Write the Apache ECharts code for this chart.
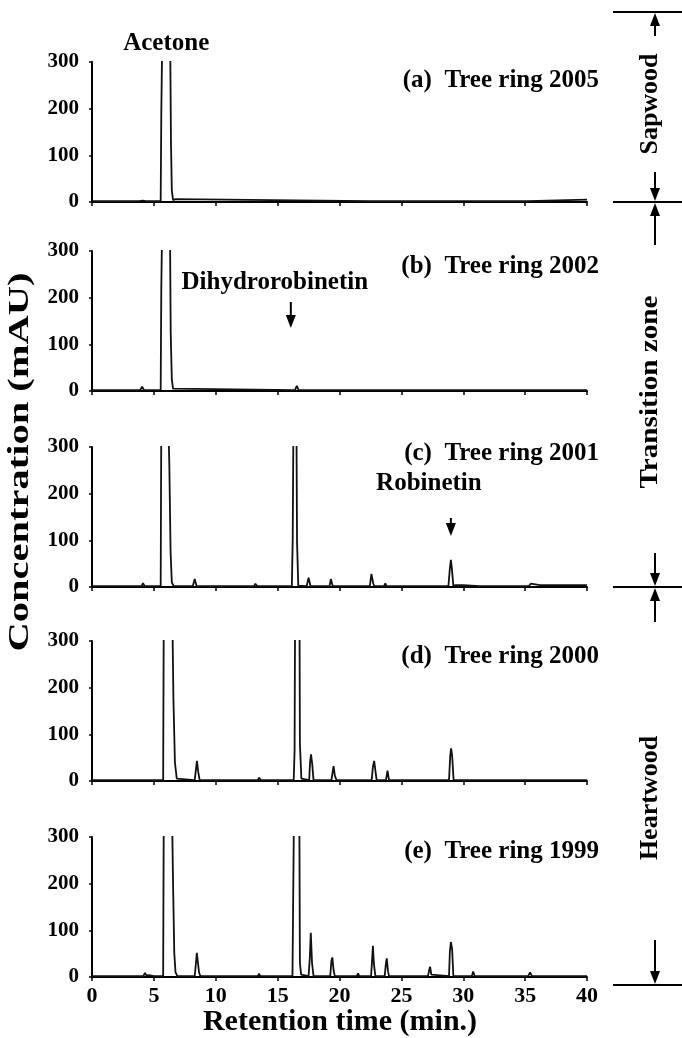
<!DOCTYPE html>
<html>
<head>
<meta charset="utf-8">
<style>
  html, body { margin: 0; padding: 0; background: #fff; }
  #chart { width: 682px; height: 1038px; }
</style>
<script src="https://cdn.jsdelivr.net/npm/echarts@6/dist/echarts.min.js"></script>
</head>
<body>
<div id="chart"></div>
<script>
// retention time (min) vs absorbance (mAU)
const ring2005 = [[0,2],[3.3,2],[3.4,5],[3.5,2],[3.8,2],[3.95,6],[4.1,3],[4.2,7],[4.35,2],
  [5.55,2],[5.6,190],[5.68,360],[6.0,2000],[6.32,340],[6.38,130],[6.45,25],[6.55,4],[6.75,6],[6.9,2],
  [22.4,2],[22.5,5],[22.65,2],[25.9,2],[26.0,4],[26.15,2],[32.6,2],[32.7,5],[32.85,2],
  [33.9,2],[34.0,5],[34.15,2],[34.5,2],[34.6,5],[34.75,2],[35.2,2],[35.3,5],[40,5]];

const ring2002 = [[0,2],[3.3,2],[3.4,4],[3.5,2],[3.9,2],[4.05,9],[4.2,2],
  [5.55,2],[5.6,220],[5.68,380],[6.0,2000],[6.3,350],[6.36,125],[6.45,25],[6.55,5],[6.7,2],
  [16.4,2],[16.55,11],[16.7,2],[22.6,2],[22.75,5],[22.9,2],[40,2]];

const ring2001 = [[0,2],[3.2,2],[3.3,4],[3.4,2],[4.0,2],[4.12,8],[4.25,2],
  [5.55,2],[5.6,350],[6.0,2000],[6.2,320],[6.25,260],[6.35,75],[6.45,10],[6.6,2],
  [8.15,2],[8.3,17],[8.45,2],[10.8,2],[10.9,4],[11.0,2],[13.1,2],[13.2,7],[13.35,2],
  [16.15,2],[16.22,105],[16.3,450],[16.5,450],[16.57,95],[16.67,3],
  [17.35,2],[17.5,20],[17.65,2],[19.2,2],[19.3,17],[19.45,2],[20.5,2],[20.6,4],[20.7,2],
  [22.45,2],[22.58,28],[22.72,8],[22.8,2],[23.6,2],[23.7,8],[23.8,2],[25.6,2],[25.7,5],[25.85,2],
  [27.1,2],[27.2,4],[27.35,2],[28.8,2],[28.92,40],[29.0,58],[29.08,40],[29.2,3],
  [29.4,4],[30.0,4],[30.1,2],[31.3,2],[31.4,4],[31.5,2],[32.6,2],[32.7,4],[32.8,2],
  [35.3,2],[35.45,7],[35.6,4],[36.2,4],[40,4]];

const ring2000 = [[0,2],[4.15,2],[4.3,6],[4.45,2],[5.0,2],[5.1,4],[5.2,2],
  [5.75,2],[5.8,360],[6.0,2000],[6.5,340],[6.58,175],[6.7,40],[6.85,5],[7.0,2],
  [8.3,2],[8.4,25],[8.48,43],[8.58,20],[8.7,2],[10.1,2],[10.2,4],[10.3,2],[10.9,2],[11.0,4],[11.1,2],
  [13.4,2],[13.5,7],[13.65,2],[14.5,2],[14.6,4],[14.7,2],[15.2,2],[15.3,4],[15.4,2],
  [16.3,2],[16.37,65],[16.43,500],[16.75,500],[16.8,80],[16.92,5],[17.05,2],
  [17.55,2],[17.62,40],[17.7,57],[17.8,35],[17.9,2],[19.35,2],[19.45,20],[19.52,32],[19.62,12],[19.75,2],
  [22.6,2],[22.7,30],[22.8,43],[22.9,22],[23.0,2],[23.75,2],[23.88,22],[24.0,2],
  [25.8,2],[25.9,5],[26.0,2],[27.2,2],[27.3,6],[27.4,2],[28.85,2],[28.95,55],[29.02,70],[29.1,55],[29.22,2],
  [30.9,2],[31.0,6],[31.1,2],[35.5,2],[35.6,6],[35.7,2],[40,2]];

const ring1999 = [[0,2],[4.15,2],[4.28,9],[4.4,3],[4.6,4],[4.7,2],[5.0,2],[5.1,4],[5.2,2],
  [5.75,2],[5.8,360],[6.0,2000],[6.48,330],[6.55,200],[6.65,50],[6.75,10],[6.9,2],
  [8.3,2],[8.4,30],[8.47,52],[8.55,48],[8.65,10],[8.75,2],[10.1,2],[10.2,5],[10.3,2],
  [13.4,2],[13.5,7],[13.6,2],[14.5,2],[14.6,4],[14.7,2],[15.7,2],[15.8,4],[15.9,2],
  [16.2,2],[16.3,290],[16.38,600],[16.72,600],[16.8,30],[16.9,5],[17.0,2],
  [17.5,2],[17.6,40],[17.68,95],[17.78,30],[17.9,2],[19.25,2],[19.35,35],[19.42,42],[19.52,15],[19.62,2],
  [20.7,2],[20.8,5],[20.9,2],[21.4,2],[21.5,8],[21.6,2],
  [22.55,2],[22.62,30],[22.7,67],[22.78,28],[22.9,2],[23.65,2],[23.75,28],[23.82,40],[23.92,12],[24.0,2],
  [25.6,2],[25.7,5],[25.8,2],[27.15,2],[27.25,15],[27.32,22],[27.42,5],[27.5,2],
  [28.85,2],[28.92,55],[29.0,75],[29.1,60],[29.2,2],[30.7,2],[30.8,12],[30.92,2],
  [35.25,2],[35.4,10],[35.55,2],[36.5,2],[36.6,6],[36.7,2],[40,2]];

const traces = [ring2005, ring2002, ring2001, ring2000, ring1999];
const panelNames = ['(a)  Tree ring 2005', '(b)  Tree ring 2002', '(c)  Tree ring 2001', '(d)  Tree ring 2000', '(e)  Tree ring 1999'];
const zoneNames = ['Sapwood', 'Transition zone', 'Heartwood'];
const timeMax = 40, timeStep = 5;
const concMax = 300, concStep = 100;

const font = '"Liberation Serif", "DejaVu Serif", serif';
const panelTops = [62, 251, 447, 641, 837];
const titleMid = [77, 263, 450, 653, 848];
const panelH = 140;

const chart = echarts.init(document.getElementById('chart'));

const grids = panelTops.map(t => ({ left: 92, width: 495, top: t, height: panelH }));
const xAxes = traces.map((_, i) => ({
  type: 'value', gridIndex: i, min: 0, max: timeMax, interval: timeStep,
  axisLine: { lineStyle: { color: '#000', width: 2 } },
  axisTick: { length: 4, lineStyle: { color: '#000', width: 1.5 } },
  splitLine: { show: false },
  axisLabel: { show: i === traces.length - 1, color: '#000', fontFamily: font, fontWeight: 'bold', fontSize: 22, margin: 8 }
}));
const yAxes = traces.map((_, i) => ({
  type: 'value', gridIndex: i, min: 0, max: concMax, interval: concStep,
  axisLine: { show: true, lineStyle: { color: '#000', width: 2 } },
  axisTick: { show: true, length: 3, lineStyle: { color: '#000', width: 1.5 } },
  splitLine: { show: false },
  axisLabel: { color: '#000', fontFamily: font, fontWeight: 'bold', fontSize: 21, margin: 13 }
}));
const series = traces.map((d, i) => ({
  type: 'line', xAxisIndex: i, yAxisIndex: i, data: d,
  showSymbol: false, clip: true, silent: true,
  lineStyle: { color: '#111', width: 1.8 }
}));
const titles = panelNames.map((n, i) => ({
  text: n, right: 78, top: titleMid[i] - 14,
  textStyle: { fontFamily: font, fontWeight: 'bold', fontSize: 25, color: '#000' }
}));

chart.setOption({
  backgroundColor: '#fff',
  animation: false,
  title: titles,
  grid: grids,
  xAxis: xAxes,
  yAxis: yAxes,
  series: series
});

// annotations
const txt = (x, y, s, size, rot, extra) => Object.assign({
  type: 'text', x: x, y: y, rotation: rot || 0,
  style: { text: s, fill: '#000', font: 'bold ' + size + 'px ' + font, textAlign: 'center', textVerticalAlign: 'middle' }
}, extra || {});
const arrow = (x, yFrom, yTo) => {
  const dir = yTo > yFrom ? 1 : -1;
  return [
    { type: 'line', shape: { x1: x, y1: yFrom, x2: x, y2: yTo - dir * 10 }, style: { stroke: '#000', lineWidth: 2 } },
    { type: 'polygon', shape: { points: [[x - 5, yTo - dir * 13], [x + 5, yTo - dir * 13], [x, yTo]] }, style: { fill: '#000' } }
  ];
};
const hline = (y) => ({ type: 'line', shape: { x1: 613, y1: y, x2: 682, y2: y }, style: { stroke: '#000', lineWidth: 2 } });

const px = (i, t, v) => chart.convertToPixel({ gridIndex: i }, [t, v]);
const aceP = px(0, 6.0, concMax);
const dhrP = px(1, 16.55, 11);
const robP = px(2, 29.0, 58);

let g = [];
g.push(txt(aceP[0], aceP[1] - 18, 'Acetone', 25));
g.push(txt(dhrP[0] - 22, 283, 'Dihydrorobinetin', 25));
g = g.concat(arrow(dhrP[0] - 6, 302, 328));
g.push(txt(robP[0] - 22, 484, 'Robinetin', 25));
g = g.concat(arrow(robP[0], 518, 536));

// y axis name and x axis name
g.push(txt(20, 462, 'Concentration (mAU)', 30, Math.PI / 2, { scaleX: 1.35 }));
g.push(txt(340, 1022, 'Retention time (min.)', 30));

// zones on the right
[12, 202, 587, 985].forEach(y => g.push(hline(y)));
g = g.concat(arrow(655, 36, 13));
g.push(txt(650, 104, zoneNames[0], 26, Math.PI / 2));
g = g.concat(arrow(655, 172, 201));
g = g.concat(arrow(655, 245, 203));
g.push(txt(650, 392, zoneNames[1], 26, Math.PI / 2, { scaleX: 1.12 }));
g = g.concat(arrow(655, 553, 586));
g = g.concat(arrow(655, 622, 588));
g.push(txt(650, 798, zoneNames[2], 26, Math.PI / 2));
g = g.concat(arrow(655, 940, 984));

chart.setOption({ graphic: g });
</script>
</body>
</html>
